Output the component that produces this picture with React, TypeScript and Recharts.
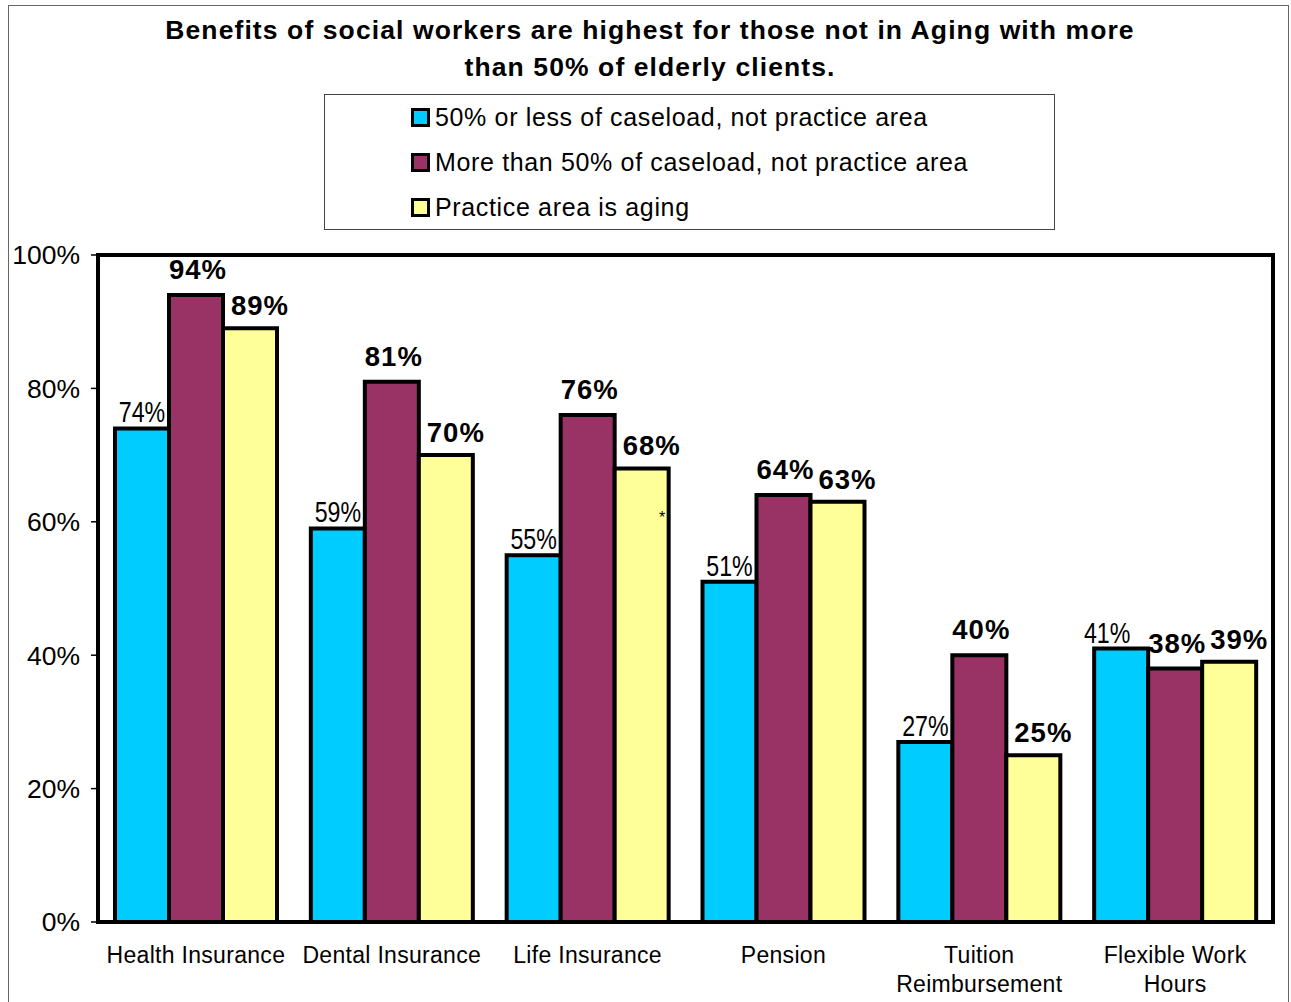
import { BarChart, Bar, XAxis, YAxis, ReferenceArea, LabelList } from "recharts";

const categories = [
  "Health Insurance",
  "Dental Insurance",
  "Life Insurance",
  "Pension",
  "Tuition\nReimbursement",
  "Flexible Work\nHours",
];
const lessThanHalf = [74, 59, 55, 51, 27, 41];
const moreThanHalf = [94, 81, 76, 64, 40, 38];
const agingArea = [89, 70, 68, 63, 25, 39];
const yTicks = [0, 20, 40, 60, 80, 100];
const boundaryTicks = [0, 1, 2, 3, 4, 5, 6];

const seriesNames = [
  "50% or less of caseload, not practice area",
  "More than 50% of caseload, not practice area",
  "Practice area is aging",
];
const colors = ["#00ccff", "#993366", "#ffff99"];

const ARIAL = "'Liberation Sans', Arial, sans-serif";

const data = categories.map((name, i) => ({
  name,
  less: lessThanHalf[i],
  more: moreThanHalf[i],
  aging: agingArea[i],
}));

const XTick = (props: any) => {
  const { x, y, payload } = props;
  const lines = String(payload.value).split("\n");
  return (
    <g>
      {lines.map((line, i) => (
        <text key={i} x={x} y={y + 33 + i * 29} textAnchor="middle" fontSize={23} letterSpacing={0.3} fontFamily={ARIAL} fill="#000">
          {line}
        </text>
      ))}
    </g>
  );
};

const makeLabel = (kind: "less" | "more" | "aging") => (props: any) => {
  const { x, y, width, value, index } = props;
  if (kind === "less") {
    // narrow regular face, squeezed horizontally
    const dx = index === categories.length - 1 ? -14 : 0;
    const cx = x + width / 2 + dx;
    return (
      <text transform={`translate(${cx},${y - 6}) scale(0.8,1)`} x={0} y={0} textAnchor="middle" fontSize={29} fontFamily={ARIAL} fill="#000">
        {value}%
      </text>
    );
  }
  const dx = kind === "aging" ? 10 : 2;
  const dy = kind === "aging" ? 13 : 16;
  return (
    <text x={x + width / 2 + dx} y={y - dy} textAnchor="middle" fontSize={27.5} letterSpacing={1} fontWeight="bold" fontFamily={ARIAL} fill="#000">
      {value}%
    </text>
  );
};

export default function App() {
  return (
    <div style={{ position: "absolute", left: 0, top: 0, width: 1291, height: 1002, background: "#fff", overflow: "hidden", fontFamily: ARIAL }}>
      <div style={{ position: "absolute", left: 8, top: 5, width: 1281, height: 1010, border: "1px solid #666", boxSizing: "border-box" }} />
      <div style={{ position: "absolute", left: 0, top: 12, width: 1300, textAlign: "center", fontSize: 26.5, letterSpacing: 1.1, fontWeight: "bold", lineHeight: "37px", color: "#000" }}>
        Benefits of social workers are highest for those not in Aging with more
        <br />
        than 50% of elderly clients.
      </div>
      <div style={{ position: "absolute", left: 324, top: 94, width: 731, height: 136, border: "1px solid #444", boxSizing: "border-box", background: "#fff" }}>
        {seriesNames.map((s, i) => (
          <div key={s} style={{ position: "absolute", left: 86, top: i * 45, height: 45, display: "flex", alignItems: "center", whiteSpace: "nowrap" }}>
            <div style={{ width: 13, height: 13, border: "3px solid #000", background: colors[i], marginRight: 5 }} />
            <span style={{ fontSize: 25, letterSpacing: 0.65, color: "#000" }}>{s}</span>
          </div>
        ))}
      </div>
      <div style={{ position: "absolute", left: 0, top: 0 }}>
        <BarChart width={1291} height={1002} data={data} margin={{ top: 255, right: 18, bottom: 78, left: 0 }} barCategoryGap={17} barGap={0}>
          <XAxis dataKey="name" height={1} axisLine={false} tickLine={false} tick={<XTick />} interval={0} />
          <XAxis xAxisId="sep" type="number" domain={[0, 6]} ticks={boundaryTicks} height={1} tick={false} axisLine={false} tickLine={{ stroke: "#000", strokeWidth: 1.5 }} tickSize={8} />
          <YAxis
            type="number"
            domain={[0, 100]}
            ticks={yTicks}
            width={98}
            axisLine={false}
            tickLine={{ stroke: "#000", strokeWidth: 1.5 }}
            tickSize={7}
            tickMargin={11}
            tickFormatter={(v) => `${v}%`}
            tick={{ fontSize: 26.5, fill: "#000", fontFamily: ARIAL }}
          />
          <Bar dataKey="less" fill={colors[0]} stroke="#000" strokeWidth={4} isAnimationActive={false}>
            <LabelList dataKey="less" content={makeLabel("less")} />
          </Bar>
          <Bar dataKey="more" fill={colors[1]} stroke="#000" strokeWidth={4} isAnimationActive={false}>
            <LabelList dataKey="more" content={makeLabel("more")} />
          </Bar>
          <Bar dataKey="aging" fill={colors[2]} stroke="#000" strokeWidth={4} isAnimationActive={false}>
            <LabelList dataKey="aging" content={makeLabel("aging")} />
          </Bar>
          <ReferenceArea y1={0} y2={100} fill="none" stroke="#000" strokeWidth={4} ifOverflow="visible" />
        </BarChart>
      </div>
      <span style={{ position: "absolute", left: 659, top: 509, fontSize: 16, color: "#000" }}>*</span>
    </div>
  );
}
